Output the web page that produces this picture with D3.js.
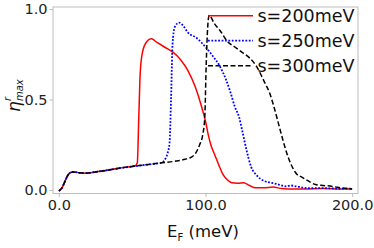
<!DOCTYPE html>
<html>
<head>
<meta charset="utf-8">
<script src="https://cdn.jsdelivr.net/npm/d3@7"></script>
<style>
  body { margin: 0; background: #fff; }
  svg { display: block; font-family: "DejaVu Sans", sans-serif; }
  .tick text { fill: #222; }
</style>
</head>
<body>
<svg id="chart" width="374" height="248"></svg>
<script>
const width = 374;
const height = 248;

// shared low-energy part of every curve
const baseE = [0, 2, 4, 6, 8, 10, 14, 18, 25, 35, 45, 50];
const baseEta = [-0.005, 0.01, 0.045, 0.08, 0.097, 0.1, 0.095, 0.093, 0.1, 0.112, 0.125, 0.13];

const redE = [52, 53.5, 54.5, 55.5, 57, 60, 63, 67, 72, 78, 83, 88, 93, 97, 100, 102, 104, 106, 108, 110, 112, 115, 118, 122, 126, 130, 134, 140, 146, 152, 160, 170, 180, 190, 200];
const redEta = [0.133, 0.15, 0.4, 0.65, 0.76, 0.82, 0.835, 0.815, 0.79, 0.76, 0.72, 0.66, 0.57, 0.47, 0.38, 0.3, 0.24, 0.2, 0.16, 0.12, 0.085, 0.055, 0.04, 0.038, 0.04, 0.025, 0.012, 0.012, 0.016, 0.008, 0.005, 0.006, 0.008, 0.006, 0.005];

const blueE = [55, 60, 65, 70, 72, 74, 75.5, 76.5, 77.5, 79, 82, 85, 88, 94, 100, 104, 110, 114, 117, 120, 123, 125, 128, 131, 135, 140, 145, 150, 155, 158, 162, 170, 180, 190, 200];
const blueEta = [0.135, 0.14, 0.145, 0.15, 0.165, 0.2, 0.26, 0.5, 0.8, 0.9, 0.925, 0.905, 0.87, 0.84, 0.79, 0.75, 0.68, 0.61, 0.54, 0.46, 0.4, 0.33, 0.22, 0.13, 0.08, 0.05, 0.04, 0.03, 0.02, 0.025, 0.02, 0.01, 0.01, 0.008, 0.008];

const blackE = [55, 60, 65, 70, 80, 86, 90, 93, 96, 98, 99.5, 100.5, 101.5, 102.5, 106, 110, 115, 120, 125, 130, 135, 140, 144, 147, 150, 153, 156, 159, 162, 166, 170, 175, 180, 185, 190, 195, 200];
const blackEta = [0.135, 0.14, 0.145, 0.15, 0.16, 0.17, 0.18, 0.2, 0.25, 0.3, 0.4, 0.7, 0.9, 0.965, 0.92, 0.88, 0.82, 0.79, 0.76, 0.73, 0.68, 0.6, 0.53, 0.45, 0.36, 0.27, 0.19, 0.13, 0.09, 0.07, 0.05, 0.03, 0.025, 0.022, 0.015, 0.01, 0.006];

const seriesNames = ['s=200meV', 's=250meV', 's=300meV'];
const xTicks = [0, 100, 200];
const yTicks = [0, 0.5, 1.0];

const series = [
    { name: seriesNames[0], E: redE, eta: redEta, color: '#ff0000', dash: null, w: 1.5 },
    { name: seriesNames[1], E: blueE, eta: blueEta, color: '#0000ff', dash: '1.8,1.6', w: 1.8 },
    { name: seriesNames[2], E: blackE, eta: blackEta, color: '#000000', dash: '5,2.5', w: 1.5 }
];

const plot = { left: 53, right: 358, top: 7, bottom: 193.5 };

const x = d3.scaleLinear().domain([-4, 204]).range([plot.left, plot.right]);
const y = d3.scaleLinear().domain([-0.0193, 1.011]).range([plot.bottom, plot.top]);

const svg = d3.select('#chart');

// frame
svg.append('rect')
    .attr('x', plot.left)
    .attr('y', plot.top)
    .attr('width', plot.right - plot.left)
    .attr('height', plot.bottom - plot.top)
    .attr('fill', 'none')
    .attr('stroke', '#bdbdbd')
    .attr('stroke-width', 1);

const xAxis = svg.append('g')
    .attr('transform', `translate(0,${plot.bottom})`)
    .call(d3.axisBottom(x).tickValues(xTicks).tickFormat(d3.format('.1f')).tickSize(3.5).tickPadding(3));

const yAxis = svg.append('g')
    .attr('transform', `translate(${plot.left},0)`)
    .call(d3.axisLeft(y).tickValues(yTicks).tickFormat(d3.format('.1f')).tickSize(3.5).tickPadding(2));

[xAxis, yAxis].forEach(ax => {
    ax.select('.domain').remove();
    ax.selectAll('.tick line').attr('stroke', '#bdbdbd');
    ax.selectAll('.tick text').attr('font-size', 14.5).attr('font-family', 'DejaVu Sans');
});

// curves
const line = d3.line()
    .x(d => x(d[0]))
    .y(d => y(d[1]))
    .curve(d3.curveMonotoneX);

series.forEach(s => {
    const pts = baseE.map((e, i) => [e, baseEta[i]])
        .concat(s.E.map((e, i) => [e, s.eta[i]]));
    svg.append('path')
        .attr('d', line(pts))
        .attr('fill', 'none')
        .attr('stroke', s.color)
        .attr('stroke-width', s.w)
        .attr('stroke-dasharray', s.dash);
});

// legend
series.forEach((s, i) => {
    const ly = 15.7 + i * 25;
    svg.append('line')
        .attr('x1', 208).attr('x2', 253)
        .attr('y1', ly).attr('y2', ly)
        .attr('stroke', s.color)
        .attr('stroke-width', s.w)
        .attr('stroke-dasharray', s.dash);
    svg.append('text')
        .attr('x', 257.5)
        .attr('y', ly + 6.3)
        .attr('font-size', 17.5)
        .attr('fill', '#111')
        .text(s.name);
});

// x label
const xl = svg.append('text')
    .attr('x', 203)
    .attr('y', 237)
    .attr('text-anchor', 'middle')
    .attr('font-size', 16.5)
    .attr('fill', '#111');
xl.append('tspan').text('E');
xl.append('tspan').attr('font-size', 10).attr('dy', 4).text('F');
xl.append('tspan').attr('dy', -4).text(' (meV)');

// y label
const yl = svg.append('g').attr('transform', 'translate(20,100) rotate(-90)');
yl.append('text')
    .attr('x', -12).attr('y', 0)
    .attr('font-size', 17)
    .attr('font-style', 'italic')
    .attr('fill', '#111')
    .text('η');
yl.append('text')
    .attr('x', -1).attr('y', -9)
    .attr('font-size', 10)
    .attr('font-style', 'italic')
    .attr('fill', '#111')
    .text('r');
yl.append('text')
    .attr('x', -1).attr('y', 3)
    .attr('font-size', 10)
    .attr('font-style', 'italic')
    .attr('fill', '#111')
    .text('max');
</script>
</body>
</html>
